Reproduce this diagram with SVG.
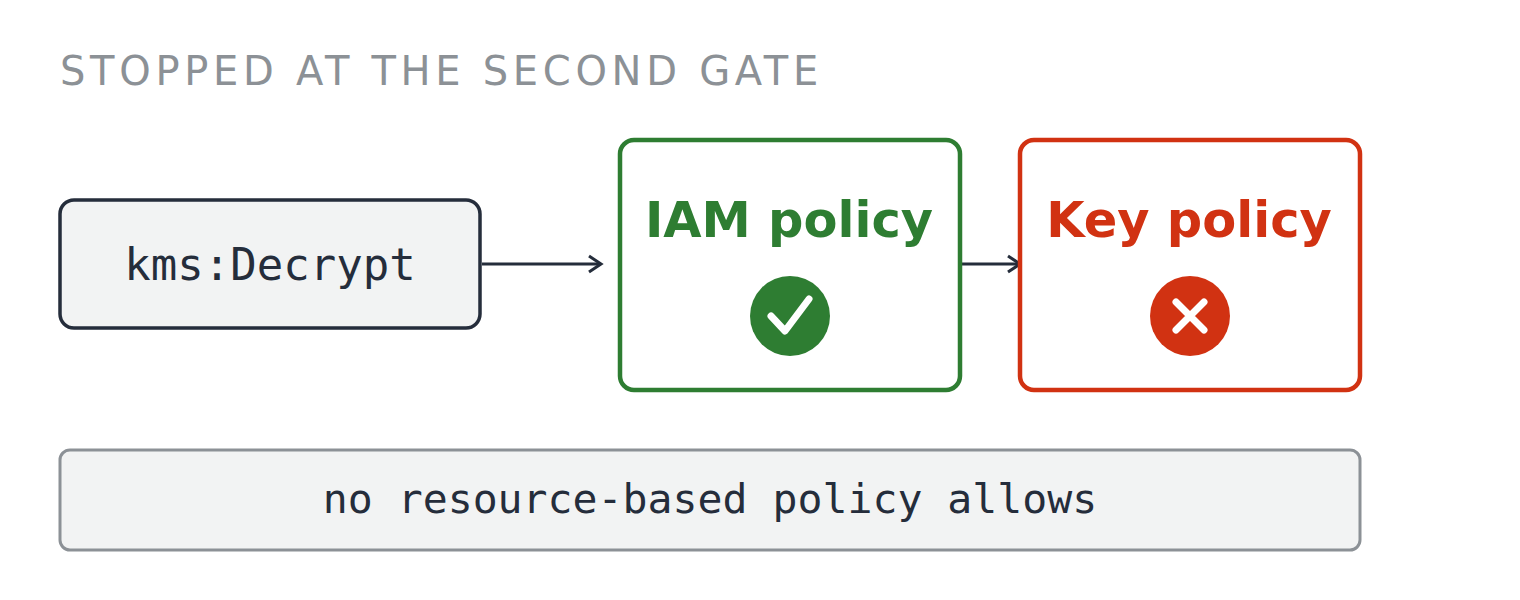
<svg xmlns="http://www.w3.org/2000/svg" width="1520" height="600" viewBox="0 0 1520 600">
<style>
.mono{font-family:"DejaVu Sans Mono",monospace;font-size:41.5px;fill:#252d3b;text-anchor:middle}
.lbl{font-family:"DejaVu Sans",sans-serif;font-size:49.5px;font-weight:bold;text-anchor:middle}
.cn{stroke:#252d3b;stroke-width:3;fill:none}
</style>
<defs><marker id="ah" markerWidth="20" markerHeight="20" refX="17" refY="10" orient="auto" markerUnits="userSpaceOnUse"><path d="M5,2 L17,10 L5,18" fill="none" stroke="#252d3b" stroke-width="3"/></marker></defs>
<rect width="1520" height="600" fill="#fff"/>
<text x="60" y="85" font-family="DejaVu Sans,sans-serif" font-size="40" letter-spacing="4.7" fill="#8c9196">STOPPED AT THE SECOND GATE</text>
<g id="connectors">
<line class="cn" x1="482" y1="264" x2="601" y2="264" marker-end="url(#ah)"/>
<line class="cn" x1="962" y1="264" x2="1020" y2="264" marker-end="url(#ah)"/>
</g>
<g id="decrypt"><rect x="60" y="200" width="420" height="128" rx="14" fill="#f2f3f3" stroke="#252d3b" stroke-width="3.5"/><text class="mono" x="270" y="280" style="font-size:44px">kms:Decrypt</text></g>
<g id="iam"><rect x="620" y="140" width="340" height="250" rx="14" fill="#fff" stroke="#2e7d32" stroke-width="4.5"/><text class="lbl" x="789" y="237" fill="#2e7d32">IAM policy</text><circle cx="790" cy="316" r="40" fill="#2e7d32"/><path d="M771,316 L785,331 L809,299" fill="none" stroke="#fff" stroke-width="7" stroke-linecap="round" stroke-linejoin="round"/></g>
<g id="key"><rect x="1020" y="140" width="340" height="250" rx="14" fill="#fff" stroke="#d13212" stroke-width="4.5"/><text class="lbl" x="1189" y="237" fill="#d13212">Key policy</text><circle cx="1190" cy="316" r="40" fill="#d13212"/><path d="M1176,302 L1204,330 M1204,302 L1176,330" stroke="#fff" stroke-width="7" stroke-linecap="round"/></g>
<g id="note"><rect x="60" y="450" width="1300" height="100" rx="10" fill="#f2f3f3" stroke="#8c9196" stroke-width="3"/><text class="mono" x="710" y="513">no resource-based policy allows</text></g>
</svg>
